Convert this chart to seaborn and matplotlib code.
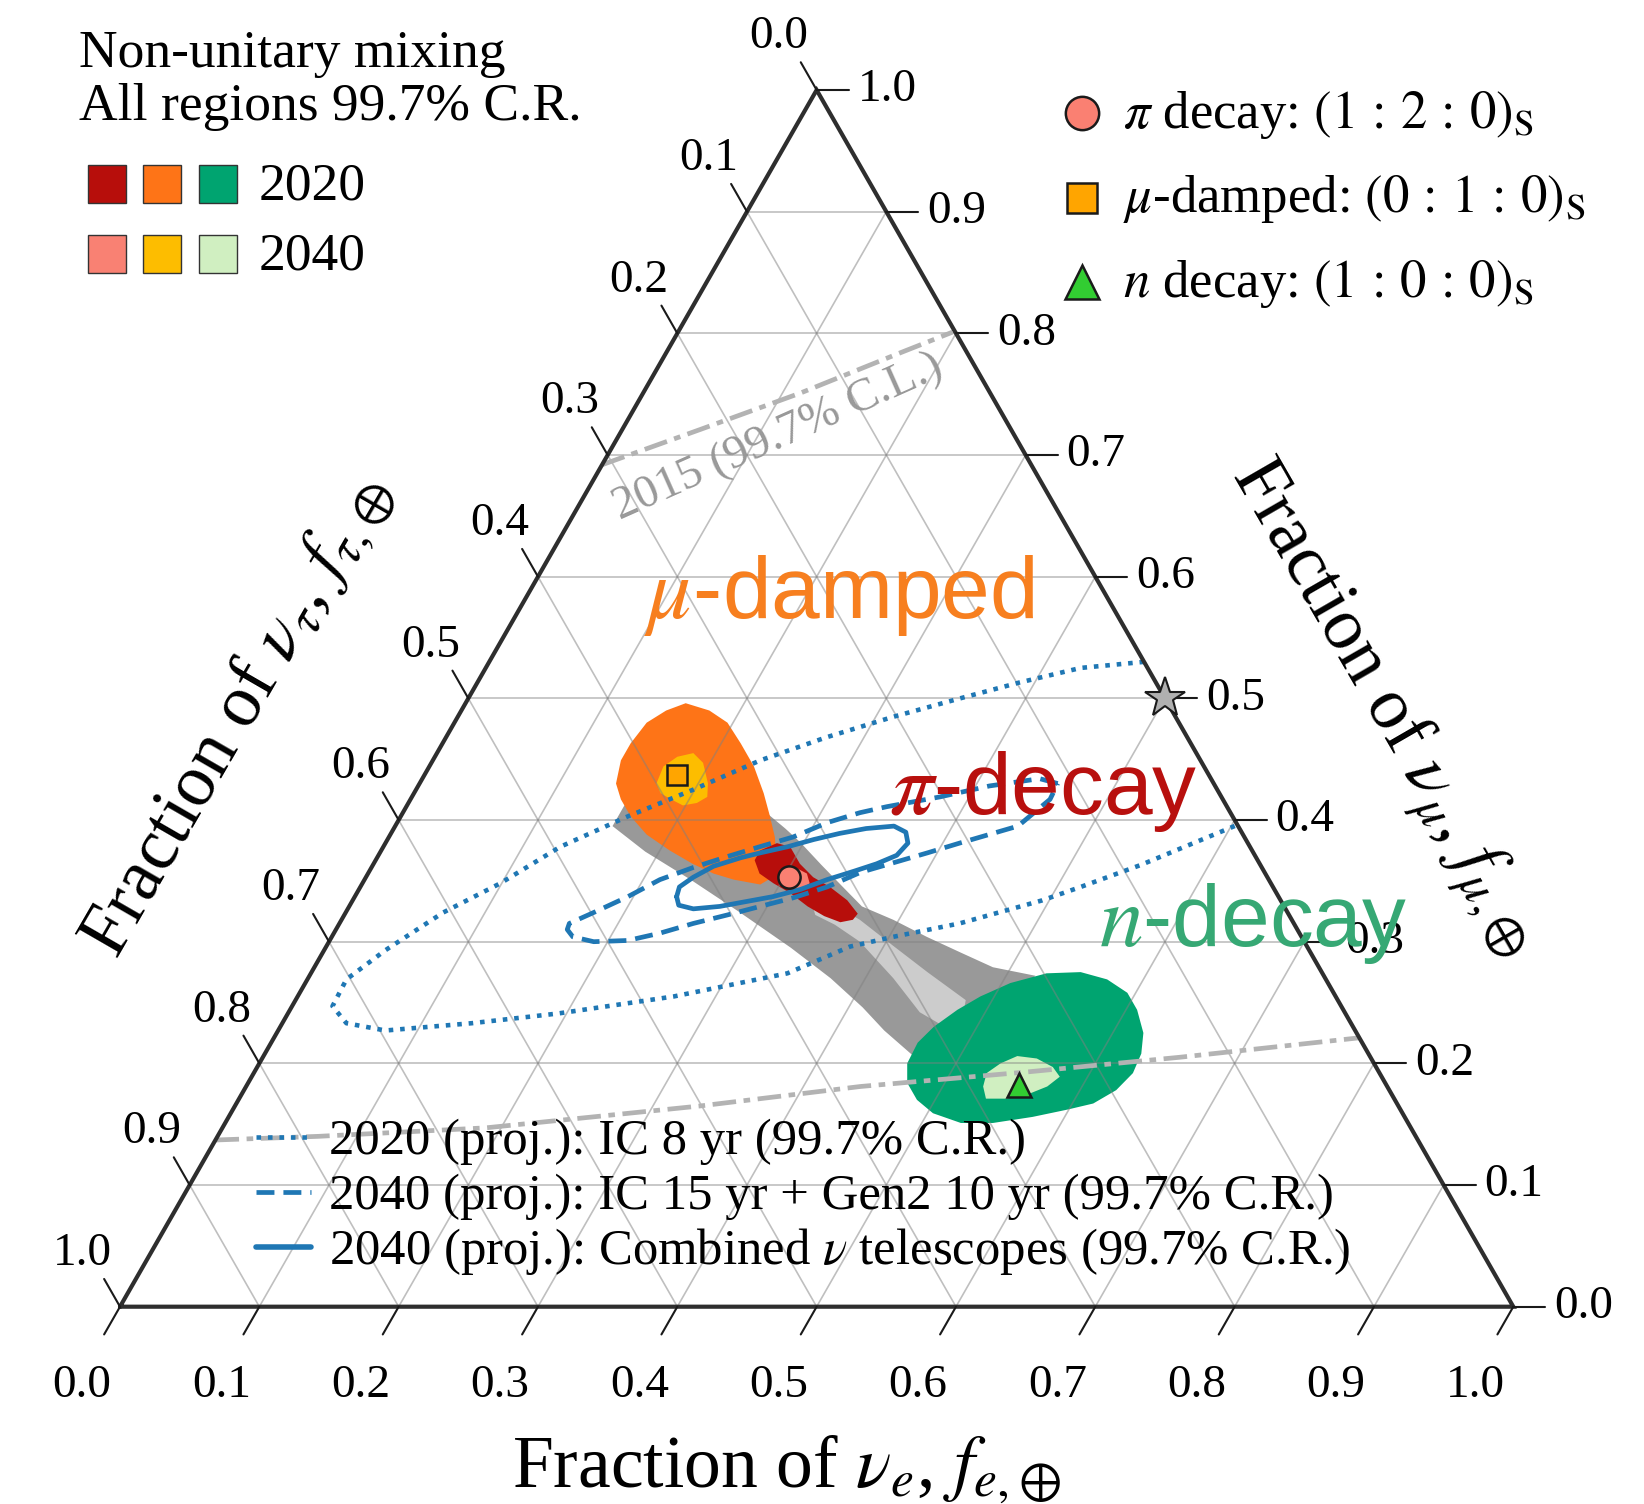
import numpy as np
import seaborn as sns
import matplotlib.pyplot as plt

# all regions in flavour fractions at Earth: (f_e, f_mu), f_tau = 1 - f_e - f_mu
orange_2020_e = [0.158, 0.178, 0.196, 0.214, 0.233, 0.251, 0.265, 0.277, 0.286, 0.292, 0.286, 0.265,
                 0.248, 0.229, 0.207, 0.184, 0.165, 0.151, 0.141, 0.135, 0.135, 0.138, 0.147]
orange_2020_mu = [0.496, 0.490, 0.480, 0.463, 0.444, 0.422, 0.403, 0.386, 0.370, 0.353, 0.347, 0.351,
                  0.356, 0.364, 0.375, 0.388, 0.403, 0.417, 0.430, 0.449, 0.463, 0.480, 0.490]
gold_2040_e = [0.170, 0.168, 0.174, 0.184, 0.195, 0.207, 0.212, 0.207, 0.198, 0.187, 0.177]
gold_2040_mu = [0.430, 0.444, 0.452, 0.455, 0.447, 0.430, 0.419, 0.414, 0.412, 0.417, 0.422]

red_2020_e = [0.272, 0.281, 0.292, 0.306, 0.321, 0.337, 0.355, 0.368, 0.367, 0.359, 0.345, 0.329,
              0.311, 0.295, 0.281, 0.272]
red_2020_mu = [0.375, 0.381, 0.378, 0.364, 0.353, 0.345, 0.334, 0.323, 0.318, 0.316, 0.321, 0.329,
               0.340, 0.348, 0.356, 0.367]
salmon_2040_e = [0.294, 0.302, 0.315, 0.321, 0.317, 0.307]
salmon_2040_mu = [0.359, 0.362, 0.356, 0.348, 0.343, 0.344]

green_2020_e = [0.528, 0.552, 0.574, 0.594, 0.608, 0.622, 0.629, 0.631, 0.626, 0.615, 0.599, 0.577,
                0.551, 0.528, 0.504, 0.487, 0.473, 0.465, 0.464, 0.469, 0.479, 0.490, 0.506]
green_2020_mu = [0.274, 0.275, 0.269, 0.258, 0.244, 0.225, 0.208, 0.192, 0.178, 0.167, 0.162, 0.156,
                 0.151, 0.151, 0.159, 0.170, 0.184, 0.200, 0.217, 0.230, 0.244, 0.255, 0.266]
lgreen_2040_e = [0.529, 0.526, 0.532, 0.541, 0.556, 0.571, 0.580, 0.575, 0.565, 0.551, 0.536]
lgreen_2040_mu = [0.181, 0.192, 0.200, 0.206, 0.204, 0.197, 0.189, 0.181, 0.175, 0.171, 0.171]

# all source compositions (gray bands)
band_dark_e = [0.156, 0.190, 0.234, 0.283, 0.334, 0.375, 0.410, 0.435, 0.465,
               0.502, 0.510, 0.521, 0.487, 0.458, 0.427, 0.396, 0.368, 0.349, 0.322, 0.297, 0.281,
               0.264, 0.236, 0.196, 0.168, 0.156]
band_dark_mu = [0.395, 0.374, 0.351, 0.324, 0.295, 0.270, 0.246, 0.227, 0.207,
                0.203, 0.244, 0.272, 0.279, 0.291, 0.304, 0.318, 0.329, 0.343, 0.363, 0.382, 0.393,
                0.404, 0.425, 0.441, 0.425, 0.412]
band_light_e = [0.332, 0.348, 0.372, 0.406, 0.442, 0.481, 0.491, 0.453, 0.420, 0.381, 0.356, 0.338]
band_light_mu = [0.330, 0.330, 0.318, 0.297, 0.275, 0.252, 0.223, 0.242, 0.270, 0.300, 0.314, 0.322]

# projected IceCube contours
ic2020_e = [0.470, 0.427, 0.389, 0.353, 0.313, 0.273, 0.235, 0.199, 0.163, 0.127, 0.099, 0.070,
            0.044, 0.028, 0.029, 0.046, 0.077, 0.136, 0.194, 0.270, 0.342, 0.376, 0.403, 0.445,
            0.495, 0.517, 0.551, 0.604]
ic2020_mu = [0.530, 0.525, 0.513, 0.500, 0.485, 0.468, 0.449, 0.425, 0.403, 0.378, 0.348, 0.324,
             0.293, 0.269, 0.247, 0.233, 0.227, 0.233, 0.241, 0.255, 0.274, 0.296, 0.304, 0.315,
             0.334, 0.345, 0.363, 0.396]
gen2_e = [0.458, 0.443, 0.410, 0.379, 0.345, 0.328, 0.309, 0.290, 0.270, 0.251, 0.231, 0.212,
          0.196, 0.178, 0.165, 0.166, 0.173, 0.190, 0.214, 0.234, 0.254, 0.275, 0.295, 0.315,
          0.335, 0.353, 0.373, 0.393, 0.412, 0.447, 0.459, 0.458]
gen2_mu = [0.430, 0.434, 0.428, 0.419, 0.411, 0.406, 0.398, 0.386, 0.378, 0.370, 0.361, 0.351,
           0.337, 0.324, 0.315, 0.310, 0.304, 0.300, 0.301, 0.307, 0.315, 0.322, 0.329, 0.336,
           0.345, 0.357, 0.365, 0.373, 0.381, 0.395, 0.417, 0.430]
comb_e = [0.231, 0.229, 0.235, 0.245, 0.261, 0.273, 0.290, 0.306, 0.322, 0.339, 0.358, 0.369,
          0.375, 0.372, 0.361, 0.348, 0.332, 0.317, 0.300, 0.283, 0.266, 0.248, 0.236, 0.231]
comb_mu = [0.337, 0.345, 0.353, 0.362, 0.369, 0.373, 0.378, 0.384, 0.389, 0.393, 0.395, 0.390,
           0.381, 0.371, 0.364, 0.358, 0.351, 0.343, 0.337, 0.333, 0.329, 0.327, 0.330, 0.337]

# 2015 IceCube 99.7% C.L. boundary
cl2015_up_e = [0.0, 0.056, 0.113, 0.168, 0.197]
cl2015_up_mu = [0.692, 0.721, 0.751, 0.784, 0.801]
cl2015_lo_e = [0.0, 0.072, 0.189, 0.334, 0.441, 0.555, 0.658, 0.779]
cl2015_lo_mu = [0.137, 0.140, 0.147, 0.165, 0.181, 0.193, 0.205, 0.221]

# best-fit points for each source
pi_point = (0.304, 0.353)
mud_point = (0.181, 0.437)
n_point = (0.554, 0.182)
star_point = (0.5, 0.5)

tick_vals = [round(0.1 * i, 1) for i in range(11)]

col_2020 = ['#b70e0b', '#fe7417', '#00a470']
col_2040 = ['#f98173', '#fdbd00', '#d0efc1']
blue = '#1f77b4'

sns.set_theme(style='white')
plt.rcParams['font.family'] = ['Liberation Serif', 'DejaVu Serif']
plt.rcParams['mathtext.fontset'] = 'stix'
plt.rcParams['text.color'] = 'black'

W, H = 1644, 1504
X0, XS = 120.0, 1393.3
Y0, YS = 1306.7, 1216.7


def tern(e, mu):
    e = np.asarray(e, float)
    mu = np.asarray(mu, float)
    return e + mu / 2, mu


def pix(px, py):
    return (px - X0) / XS, (Y0 - py) / YS


fig = plt.figure(figsize=(W / 100, H / 100), dpi=100)
ax = fig.add_axes([0, 0, 1, 1])
ax.set_xlim(pix(0, 0)[0], pix(W, 0)[0])
ax.set_ylim(pix(0, H)[1], pix(0, 0)[1])
ax.axis('off')

# filled regions
ax.fill(*tern(band_dark_e, band_dark_mu), color='#999999', lw=0, zorder=1)
ax.fill(*tern(band_light_e, band_light_mu), color='#cccccc', lw=0, zorder=1.1)
ax.fill(*tern(orange_2020_e, orange_2020_mu), color=col_2020[1], lw=0, zorder=2)
ax.fill(*tern(gold_2040_e, gold_2040_mu), color=col_2040[1], lw=0, zorder=2.1)
ax.fill(*tern(red_2020_e, red_2020_mu), color=col_2020[0], lw=0, zorder=2.2)
ax.fill(*tern(salmon_2040_e, salmon_2040_mu), color=col_2040[0], lw=0, zorder=2.3)
ax.fill(*tern(green_2020_e, green_2020_mu), color=col_2020[2], lw=0, zorder=2)
ax.fill(*tern(lgreen_2040_e, lgreen_2040_mu), color=col_2040[2], lw=0, zorder=2.1)

# grid
for v in tick_vals[1:-1]:
    for e, mu in [([0, 1 - v], [v, v]), ([v, v], [0, 1 - v]), ([1 - v, 0], [0, 1 - v])]:
        ax.plot(*tern(e, mu), color='gray', alpha=0.5, lw=1.2, zorder=3)

# 2015 boundary
for e, mu in [(cl2015_up_e, cl2015_up_mu), (cl2015_lo_e, cl2015_lo_mu)]:
    xs, ys = tern(e, mu)
    sns.lineplot(x=xs, y=ys, sort=False, estimator=None, color='#b3b3b3', linewidth=3.4,
                 linestyle=(0, (5, 1.6, 1.4, 1.6)), ax=ax, legend=False, zorder=4)

# projected contours
xs, ys = tern(ic2020_e, ic2020_mu)
sns.lineplot(x=xs, y=ys, sort=False, estimator=None, color=blue, linewidth=3.3,
             linestyle=(0, (1.0, 1.5)), ax=ax, legend=False, zorder=4)
xs, ys = tern(gen2_e, gen2_mu)
sns.lineplot(x=xs, y=ys, sort=False, estimator=None, color=blue, linewidth=3.4,
             linestyle=(0, (3.8, 1.9)), ax=ax, legend=False, zorder=4)
xs, ys = tern(comb_e, comb_mu)
sns.lineplot(x=xs, y=ys, sort=False, estimator=None, color=blue, linewidth=3.4,
             ax=ax, legend=False, zorder=4)

# triangle and ticks
ax.plot(*tern([0, 1, 0, 0], [0, 0, 1, 0]), color='#2e2e2e', lw=3, zorder=5,
        solid_joinstyle='miter')
L = 0.0228
for v in tick_vals:
    lab = f'{v:.1f}'
    # bottom: f_e
    x, y = tern(v, 0)
    ax.plot([x, x - 0.5 * L], [y, y - L], color='k', lw=1.5, zorder=5)
    ax.text(x - 0.0273, y - 0.065, lab, ha='center', va='center', fontsize=34)
    # right: f_mu
    x, y = tern(1 - v, v)
    ax.plot([x, x + 0.023], [y, y], color='k', lw=1.5, zorder=5)
    ax.text(x + 0.0294, y, lab, ha='left', va='center', fontsize=34)
    # left: f_tau
    x, y = tern(0, 1 - v)
    ax.plot([x, x - 0.5 * L], [y, y + L], color='k', lw=1.5, zorder=5)
    ax.text(x - 0.0273, y + 0.0436, lab, ha='center', va='center', fontsize=34)

# points
ax.plot(*tern(*pi_point), 'o', ms=16, mfc='#fa8072', mec='k', mew=1.8, zorder=7)
ax.plot(*tern(*mud_point), 's', ms=15, mfc='#ffa500', mec='k', mew=1.8, zorder=7)
ax.plot(*tern(*n_point), '^', ms=17, mfc='#32cd32', mec='k', mew=1.8, zorder=7)
ax.plot(*tern(*star_point), '*', ms=30, mfc='#b0b0b0', mec='k', mew=1.5, zorder=7)

# axis titles
ax.text(*pix(786, 1487), r'Fraction of $\nu_e$, $f_{e,\!\oplus}$', ha='center',
        va='baseline', fontsize=53)
ax.text(*pix(238, 716), r'Fraction of $\nu_\tau$, $f_{\tau,\!\oplus}$', ha='center',
        va='center', fontsize=53, rotation=60)
ax.text(*pix(1384, 708), r'Fraction of $\nu_\mu$, $f_{\mu,\!\oplus}$', ha='center',
        va='center', fontsize=53, rotation=-60)

# big region labels
sans = ['Liberation Sans', 'DejaVu Sans']
ax.text(*pix(839, 595), r'$\mu$-damped', color='#f77f1f', fontsize=63, family=sans,
        ha='center', va='center', zorder=8)
ax.text(*pix(1043, 792), r'$\pi$-decay', color='#b8100e', fontsize=63, family=sans,
        ha='center', va='center', zorder=8)
ax.text(*pix(1253, 923), r'$n$-decay', color='#36a874', fontsize=63, family=sans,
        ha='center', va='center', zorder=8)

# 2015 label
ax.text(*pix(778, 437), '2015 (99.7% C.L.)', color='#999999', fontsize=34,
        rotation=24, ha='center', va='center', zorder=4)

# top-left legend
ax.text(*pix(79, 67), 'Non-unitary mixing', fontsize=38.5, ha='left', va='baseline')
ax.text(*pix(79, 120), 'All regions 99.7% C.R.', fontsize=38.5, ha='left', va='baseline')
for cols, year, yy in [(col_2020, '2020', 183.5), (col_2040, '2040', 253.5)]:
    for c, xx in zip(cols, [107, 162, 217.5]):
        ax.plot(*pix(xx, yy), 's', ms=27, mfc=c, mec='#333333', mew=1, zorder=8)
    ax.text(*pix(259, yy + 16), year, fontsize=38.5, ha='left', va='baseline')

# top-right legend
src = [('o', '#fa8072', r'$\pi$ decay: $(1\,:\,2\,:\,0)_\mathrm{S}$', 113, 128),
       ('s', '#ffa500', r'$\mu$-damped: $(0\,:\,1\,:\,0)_\mathrm{S}$', 198, 212),
       ('^', '#32cd32', r'$n$ decay: $(1\,:\,0\,:\,0)_\mathrm{S}$', 282, 297)]
for m, c, lab, ym, yt in src:
    ax.plot(*pix(1082, ym), m, ms=24 if m != 's' else 22, mfc=c, mec='k', mew=1.8, zorder=8)
    ax.text(*pix(1123, yt), lab, fontsize=38, ha='left', va='baseline')

# bottom legend for contours
lines = [((0, (1.0, 1.5)), 3.3, '2020 (proj.): IC 8 yr (99.7% C.R.)', 1137),
         ((0, (3.8, 1.9)), 3.4, '2040 (proj.): IC 15 yr + Gen2 10 yr (99.7% C.R.)', 1192),
         ('-', 4.0, r'2040 (proj.): Combined $\nu$ telescopes (99.7% C.R.)', 1247)]
for ls, lw, lab, yy in lines:
    (x1, y1), (x2, y2) = pix(256, yy), pix(311, yy)
    ax.plot([x1, x2], [y1, y2], color=blue, lw=lw, ls=ls, zorder=8)
    ax.text(*pix(329, yy + 17), lab, fontsize=36.5, ha='left', va='baseline', zorder=8)

fig.savefig('out.png', dpi=100)
